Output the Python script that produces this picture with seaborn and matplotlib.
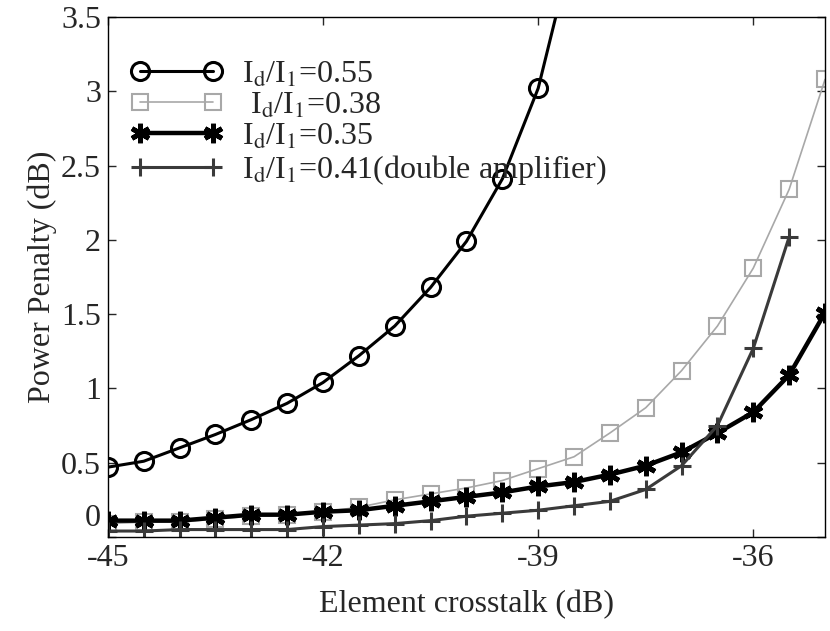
import numpy as np
import pandas as pd
import seaborn as sns
import matplotlib.pyplot as plt
import matplotlib.transforms as mtransforms

# crosstalk values (dB), step 0.5
crosstalk = [-45, -44.5, -44, -43.5, -43, -42.5, -42, -41.5, -41, -40.5, -40,
             -39.5, -39, -38.5, -38, -37.5, -37, -36.5, -36, -35.5, -35]

# power penalty (dB)
pp_055 = [0.47, 0.51, 0.60, 0.69, 0.79, 0.90, 1.04, 1.22, 1.42, 1.68, 1.99,
          2.41, 3.02, 4.00]
pp_038 = [0.09, 0.10, 0.10, 0.12, 0.14, 0.15, 0.17, 0.20, 0.25, 0.29, 0.33,
          0.38, 0.46, 0.54, 0.70, 0.87, 1.12, 1.42, 1.81, 2.34, 3.08]
pp_035 = [0.11, 0.11, 0.11, 0.13, 0.15, 0.15, 0.17, 0.18, 0.21, 0.24, 0.27,
          0.30, 0.34, 0.37, 0.42, 0.48, 0.57, 0.70, 0.84, 1.09, 1.51]
pp_041 = [0.04, 0.04, 0.05, 0.05, 0.05, 0.05, 0.07, 0.08, 0.09, 0.11, 0.14,
          0.16, 0.18, 0.21, 0.24, 0.32, 0.48, 0.75, 1.27, 2.02]

labels = [r"I$_\mathrm{d}$/I$_\mathrm{1}$=0.55",
          r" I$_\mathrm{d}$/I$_\mathrm{1}$=0.38",
          r"I$_\mathrm{d}$/I$_\mathrm{1}$=0.35",
          r"I$_\mathrm{d}$/I$_\mathrm{1}$=0.41(double amplifier)"]

xticks = [-45, -42, -39, -36]
yticks = [0, 0.5, 1, 1.5, 2, 2.5, 3, 3.5]
yticklabels = ['0', '0.5', '1', '1.5', '2', '2.5', '3', '3.5']

sns.set_style("white")
plt.rcParams['font.family'] = ['Liberation Serif', 'DejaVu Serif']
plt.rcParams['mathtext.fontset'] = 'stix'
plt.rcParams['axes.unicode_minus'] = False

fig = plt.figure(figsize=(8.3, 6.31), dpi=100)
ax = fig.add_axes([0.130, 0.149, 0.864, 0.824])

asterisk = (6, 2, 0)

sns.lineplot(x=crosstalk[:len(pp_055)], y=pp_055, ax=ax, color='black',
             linewidth=2.2, marker='o', markersize=13, markerfacecolor='none',
             markeredgecolor='black', markeredgewidth=2.2, label=labels[0])
sns.lineplot(x=crosstalk, y=pp_038, ax=ax, color='#a8a8a8',
             linewidth=1.2, marker='s', markersize=12, markerfacecolor='none',
             markeredgecolor='#a8a8a8', markeredgewidth=1.5, label=labels[1])
sns.lineplot(x=crosstalk, y=pp_035, ax=ax, color='black',
             linewidth=3.2, marker=asterisk, markersize=14,
             markeredgecolor='black', markeredgewidth=3.5, label=labels[2])
sns.lineplot(x=crosstalk[:len(pp_041)], y=pp_041, ax=ax, color='#3a3a3a',
             linewidth=2.2, marker='+', markersize=13,
             markeredgecolor='#3a3a3a', markeredgewidth=2.2, label=labels[3])

ax.set_xlim(-45, -35)
ax.set_ylim(0, 3.5)
ax.set_xticks(xticks)
ax.set_yticks(yticks)
ax.set_yticklabels(yticklabels)
ax.tick_params(direction='in', length=6, width=1, labelsize=23,
               top=True, right=True, bottom=True, left=True, pad=5)
for s in ax.spines.values():
    s.set_linewidth(1.0)
    s.set_color('black')

# the "0" label sits a bit higher, like in the original
zero = ax.get_yticklabels()[0]
zero.set_transform(zero.get_transform() +
                   mtransforms.ScaledTranslation(0, 16 / 72, fig.dpi_scale_trans))

ax.set_xlabel('Element crosstalk (dB)', fontsize=23, labelpad=12)
ax.set_ylabel('Power Penalty (dB)', fontsize=23, labelpad=3)

leg = ax.legend(loc='upper left', bbox_to_anchor=(0.0, 0.96), frameon=False,
                fontsize=23, handlelength=2.9, handletextpad=0.6,
                labelspacing=0.05, borderaxespad=0.3, numpoints=2)

fig.savefig('out.png', dpi=100)
